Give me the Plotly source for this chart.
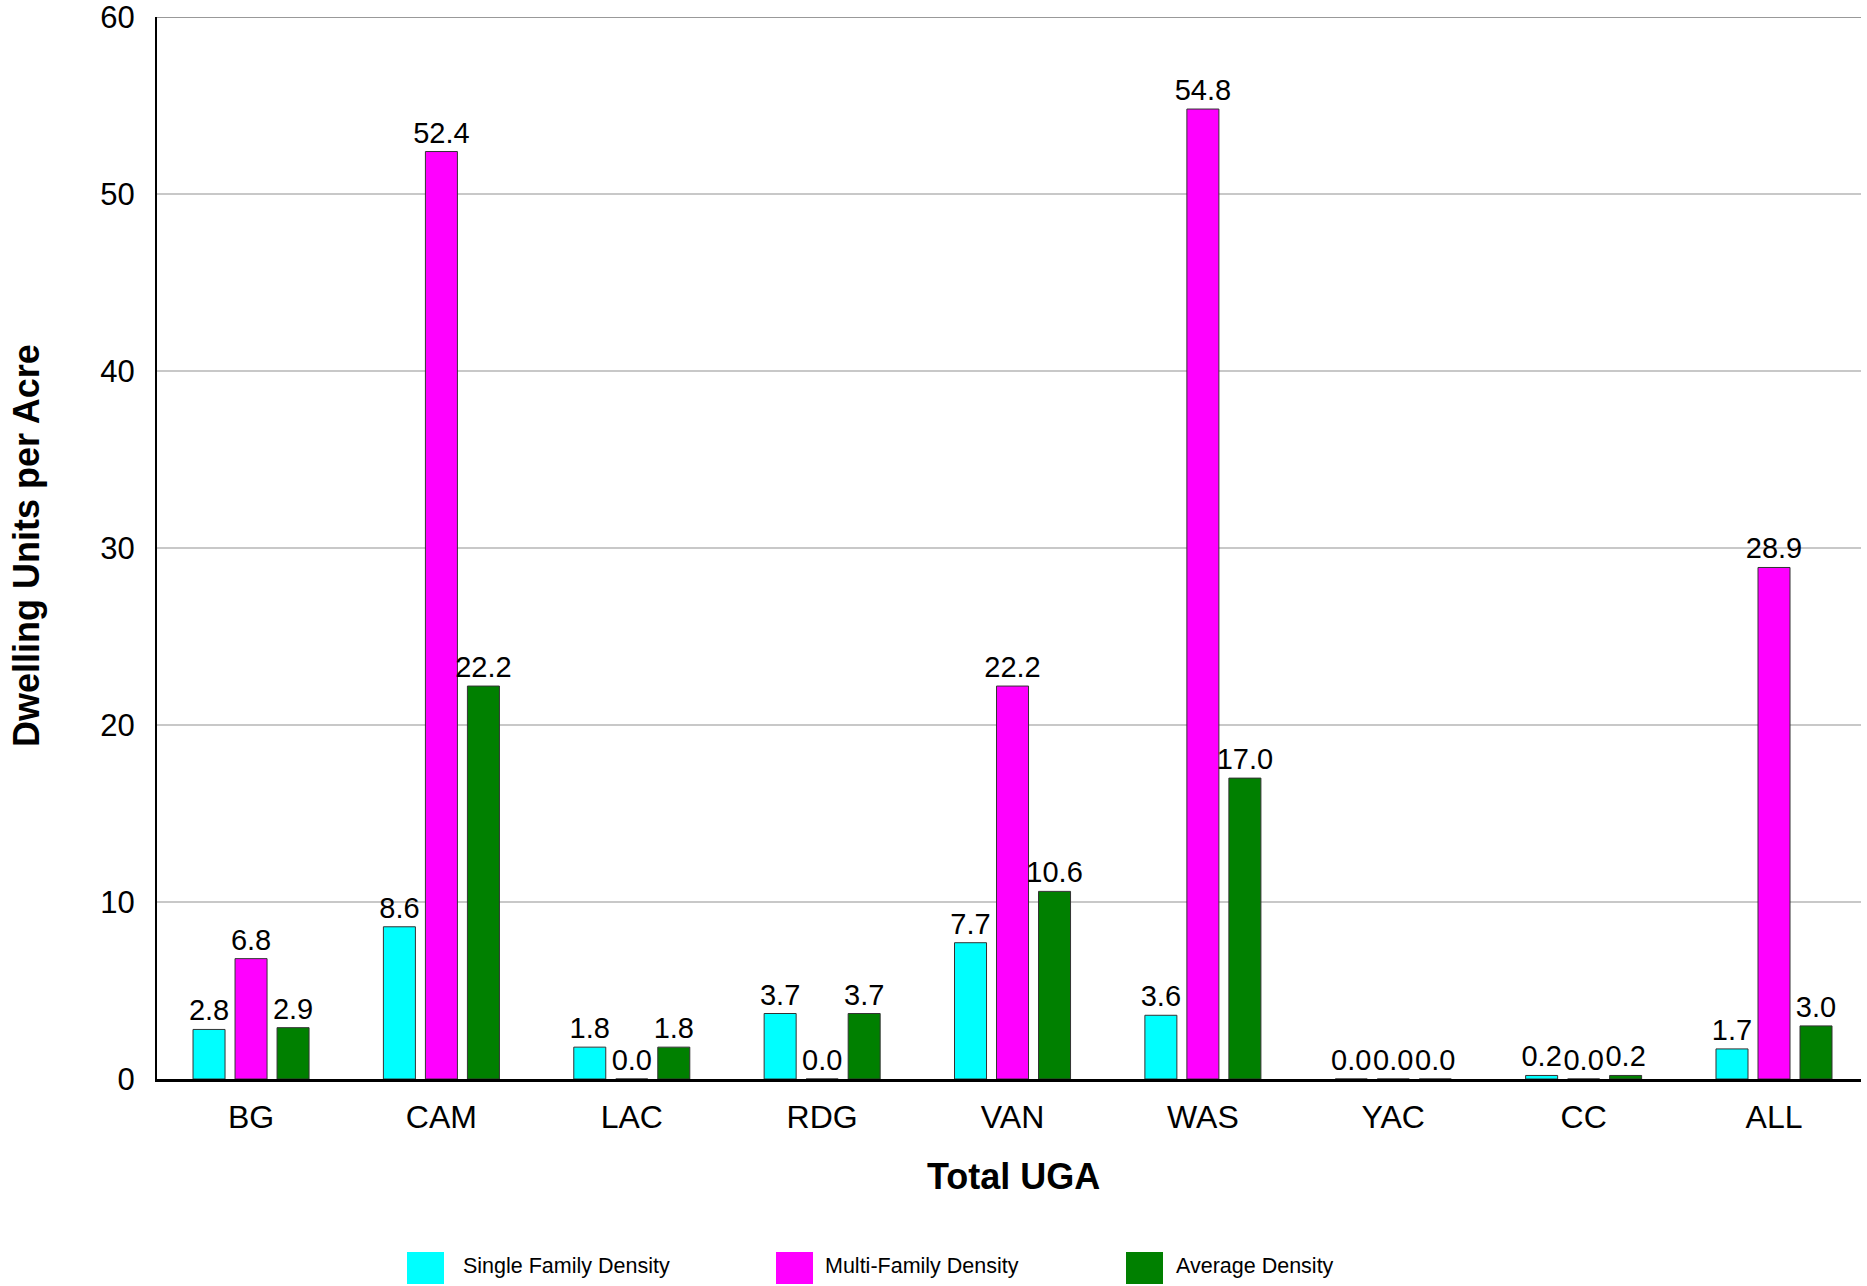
import plotly.graph_objects as go

categories = ["BG", "CAM", "LAC", "RDG", "VAN", "WAS", "YAC", "CC", "ALL"]
single_family = [2.8, 8.6, 1.8, 3.7, 7.7, 3.6, 0.0, 0.2, 1.7]
multi_family = [6.8, 52.4, 0.0, 0.0, 22.2, 54.8, 0.0, 0.0, 28.9]
average = [2.9, 22.2, 1.8, 3.7, 10.6, 17.0, 0.0, 0.2, 3.0]
series_names = ["Single Family Density", "Multi-Family Density", "Average Density"]
series_colors = ["#00FFFF", "#FF00FF", "#008000"]
y_ticks = [0, 10, 20, 30, 40, 50, 60]

W, H = 1867, 1286
L, R, T, B = 157, 6, 17, 207
PW, PH = W - L - R, H - T - B
FONT = "Liberation Sans, Arial, sans-serif"


def px_x(x):
    return (x - L) / PW


def px_y(y):
    return (H - B - y) / PH


fig = go.Figure()
for name, vals, col in zip(series_names, [single_family, multi_family, average], series_colors):
    fig.add_trace(go.Bar(
        x=categories, y=vals, name=name,
        marker=dict(color=col, line=dict(color="#333333", width=1)),
        texttemplate="%{y:.1f}", textposition="outside",
        textfont=dict(family=FONT, size=29, color="black"),
        constraintext="none",
        cliponaxis=False, showlegend=False,
    ))

annotations = [
    dict(text="<b>Dwelling Units per Acre</b>", x=px_x(26), y=px_y(546), xref="paper", yref="paper",
         textangle=-90, showarrow=False, xanchor="center", yanchor="middle",
         font=dict(family=FONT, size=36, color="black")),
    dict(text="<b>Total UGA</b>", x=px_x(1013), y=px_y(1176), xref="paper", yref="paper",
         showarrow=False, xanchor="center", yanchor="middle",
         font=dict(family=FONT, size=36, color="black")),
]
shapes = [
    dict(type="line", xref="paper", yref="y", x0=0, x1=1, y0=60, y1=60,
         line=dict(color="#999999", width=2)),
]
legend_swatch_x = [407, 776, 1126]
legend_text_x = [461, 823, 1174]
for name, col, sx, tx in zip(series_names, series_colors, legend_swatch_x, legend_text_x):
    shapes.append(dict(type="rect", xref="paper", yref="paper",
                       x0=px_x(sx), x1=px_x(sx + 37), y0=px_y(1284), y1=px_y(1252),
                       fillcolor=col, line=dict(width=0)))
    annotations.append(dict(text=name, x=px_x(tx), y=px_y(1266), xref="paper", yref="paper",
                            showarrow=False, xanchor="left", yanchor="middle",
                            font=dict(family=FONT, size=21.5, color="black")))

fig.update_layout(
    width=W, height=H,
    margin=dict(l=L, r=R, t=T, b=B, autoexpand=False),
    paper_bgcolor="white", plot_bgcolor="white",
    barmode="group", bargap=0.338, bargroupgap=0.238,
    font=dict(family=FONT, color="black"),
    annotations=annotations, shapes=shapes,
    showlegend=False,
)
fig.update_xaxes(
    range=[-0.494, 8.457],
    showline=True, linecolor="black", linewidth=3,
    tickfont=dict(family=FONT, size=32, color="black"),
    ticks="outside", ticklen=8, tickcolor="rgba(0,0,0,0)",
    showgrid=False, zeroline=False,
)
fig.update_yaxes(
    range=[0, 60], tickvals=y_ticks,
    showline=True, linecolor="black", linewidth=2,
    tickfont=dict(family=FONT, size=31, color="black"),
    ticks="outside", ticklen=14, tickcolor="rgba(0,0,0,0)",
    ticklabeloverflow="allow",
    showgrid=True, gridcolor="#c8c8c8", gridwidth=1.5,
    zeroline=False,
)

fig.write_html("out.html")
